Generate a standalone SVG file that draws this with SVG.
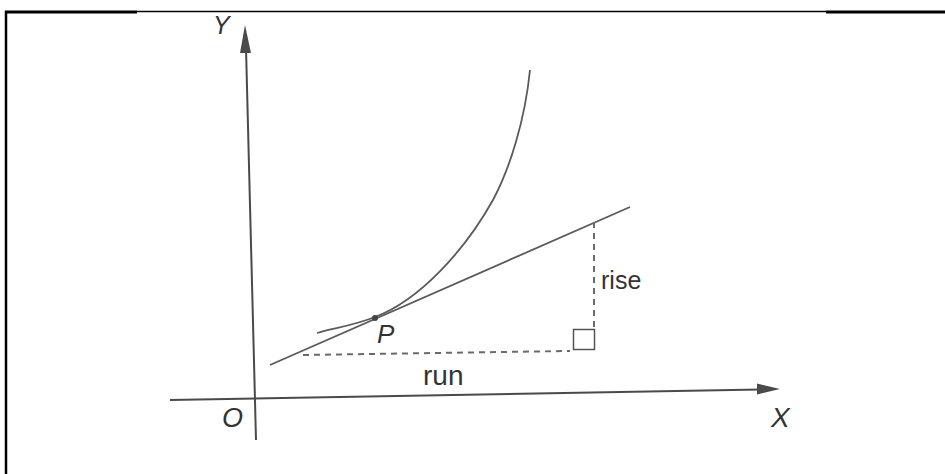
<svg xmlns="http://www.w3.org/2000/svg" width="945" height="474" viewBox="0 0 945 474">
<style>
.t{font-family:"Liberation Sans",Arial,sans-serif;fill:#333}
.i{font-style:italic}
.ax{stroke:#4a4a4a;stroke-width:2;fill:none}
.ln{stroke:#5a5a5a;stroke-width:1.8;fill:none}
.dash{stroke:#6a6a6a;stroke-width:2;fill:none;stroke-dasharray:6 5}
.head{fill:#4a4a4a}
</style>
<rect width="945" height="474" fill="#fff"/>
<g id="frame" stroke="#000" fill="none">
<line x1="6" y1="11" x2="6" y2="474" stroke-width="2.5"/>
<line x1="5" y1="12" x2="137" y2="12" stroke-width="3"/>
<line x1="137" y1="11.5" x2="826" y2="11.5" stroke-width="1.5"/>
<line x1="826" y1="12" x2="945" y2="12" stroke-width="3"/>
</g>
<g id="connectors">
<line class="ax" x1="256" y1="440" x2="246" y2="48"/>
<polygon class="head" points="245,25 240,53 251,53"/>
<line class="ax" x1="170" y1="400" x2="760" y2="389.5"/>
<polygon class="head" points="780,389 757,383.5 757,394.5"/>
<line class="ln" x1="270" y1="365" x2="630" y2="207"/>
<line class="dash" x1="303" y1="355" x2="570" y2="351"/>
<line class="dash" x1="594" y1="222" x2="594" y2="329"/>
</g>
<g id="curve">
<path class="ln" d="M317,333 C335,328 355,325 375,317 C420,300 465,250 493,200 C510,168 525,120 530,70"/>
</g>
<g id="point-P">
<circle cx="375" cy="318" r="3" fill="#444"/>
<text class="t i" x="377" y="343" font-size="26">P</text>
</g>
<g id="right-angle">
<rect x="573.5" y="329.5" width="21" height="20" fill="none" stroke="#555" stroke-width="1.5"/>
</g>
<g id="labels">
<text class="t i" x="213" y="34" font-size="25">Y</text>
<text class="t i" x="222" y="427" font-size="27">O</text>
<text class="t i" x="771" y="427" font-size="28">X</text>
<text class="t" x="601" y="289" font-size="25">rise</text>
<text class="t" x="423" y="385" font-size="28">run</text>
</g>
</svg>
